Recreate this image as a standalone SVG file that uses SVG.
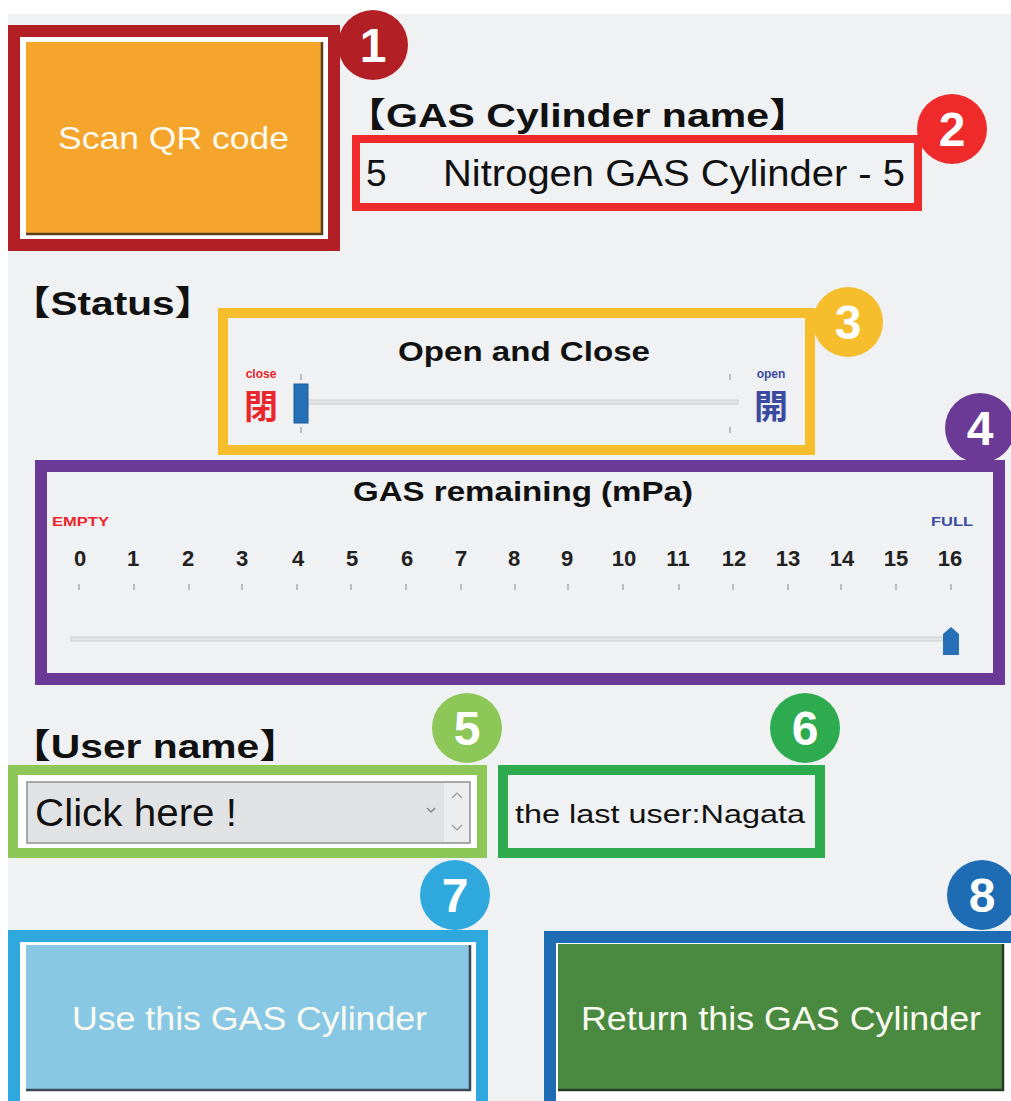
<svg xmlns="http://www.w3.org/2000/svg" width="1011" height="1101" viewBox="0 0 1011 1101">
<style>
.hd{font-family:"Liberation Sans","Noto Sans CJK JP",sans-serif;font-weight:bold;fill:#111}
.tx{font-family:"Liberation Sans","Noto Sans CJK JP",sans-serif;fill:#111}
.btn{font-family:"Liberation Sans",sans-serif;fill:#fafaf0}
.num{font-family:"Liberation Sans",sans-serif;font-weight:bold;font-size:48px;fill:#fff;text-anchor:middle}
.sc{font-family:"Liberation Sans",sans-serif;font-weight:bold;font-size:22px;fill:#222;text-anchor:middle}
.tk{stroke:#aaa;stroke-width:1.5}
.track{fill:#e3e4e6;stroke:#cfd0d2;stroke-width:1}
</style>
<rect x="0" y="0" width="1011" height="1101" fill="#ffffff"/>
<rect x="8" y="14" width="1003" height="1087" fill="#f0f1f3"/>

<g id="node1">
<rect x="14" y="31" width="320" height="214" fill="#ffffff" stroke="#b22025" stroke-width="12"/>
<rect x="26" y="42" width="296" height="192" fill="#f5a52c"/>
<path d="M322 42 V234 H26" fill="none" stroke="#5a4020" stroke-width="2.5"/>
<text class="btn" x="58" y="149" font-size="32" textLength="231" lengthAdjust="spacingAndGlyphs">Scan QR code</text>
<circle cx="373" cy="45" r="35" fill="#b22025"/>
<text class="num" x="373" y="62">1</text>
</g>

<g id="node2">
<text class="hd" x="345" y="127" font-size="34" textLength="465" lengthAdjust="spacingAndGlyphs">【GAS Cylinder name】</text>
<rect x="356" y="139" width="562" height="68" fill="none" stroke="#ee2a2b" stroke-width="8"/>
<text class="tx" x="366" y="186" font-size="37">5</text>
<text class="tx" x="443" y="186" font-size="37" textLength="462" lengthAdjust="spacingAndGlyphs">Nitrogen GAS Cylinder - 5</text>
<circle cx="952" cy="129" r="35" fill="#ee2a2b"/>
<text class="num" x="952" y="146">2</text>
</g>

<text class="hd" x="10" y="315" font-size="34" textLength="205" lengthAdjust="spacingAndGlyphs">【Status】</text>

<g id="node3">
<rect x="223" y="313" width="587" height="137" fill="none" stroke="#f6bd2d" stroke-width="10"/>
<text class="hd" x="398" y="361" font-size="28" textLength="252" lengthAdjust="spacingAndGlyphs">Open and Close</text>
<text x="261" y="378" font-family="Liberation Sans,sans-serif" font-weight="bold" font-size="12" fill="#e8262c" text-anchor="middle">close</text>
<text x="261" y="419" font-family="Noto Sans CJK JP,sans-serif" font-weight="bold" font-size="34" fill="#e8262c" text-anchor="middle">閉</text>
<text x="771" y="378" font-family="Liberation Sans,sans-serif" font-weight="bold" font-size="12" fill="#3a4ba0" text-anchor="middle">open</text>
<text x="771" y="419" font-family="Noto Sans CJK JP,sans-serif" font-weight="bold" font-size="34" fill="#3a4ba0" text-anchor="middle">開</text>
<rect class="track" x="300" y="400" width="438" height="4"/>
<line class="tk" x1="301" y1="374" x2="301" y2="380"/>
<line class="tk" x1="301" y1="427" x2="301" y2="433"/>
<line class="tk" x1="730" y1="374" x2="730" y2="380"/>
<line class="tk" x1="730" y1="427" x2="730" y2="433"/>
<rect x="294" y="384" width="14" height="39" fill="#2670b8" stroke="#1d5a96" stroke-width="1"/>
<circle cx="848" cy="322" r="35" fill="#f6bd2d"/>
<text class="num" x="848" y="339">3</text>
</g>

<g id="node4">
<rect x="41" y="466" width="958" height="213" fill="none" stroke="#6b3a96" stroke-width="12"/>
<text class="hd" x="353" y="501" font-size="28" textLength="340" lengthAdjust="spacingAndGlyphs">GAS remaining (mPa)</text>
<text x="52" y="526" font-family="Liberation Sans,sans-serif" font-weight="bold" font-size="13" fill="#e8262c" textLength="57" lengthAdjust="spacingAndGlyphs">EMPTY</text>
<text x="931" y="526" font-family="Liberation Sans,sans-serif" font-weight="bold" font-size="13" fill="#3a4ba0" textLength="42" lengthAdjust="spacingAndGlyphs">FULL</text>
<g>
<text class="sc" x="80" y="566">0</text>
<text class="sc" x="133" y="566">1</text>
<text class="sc" x="188" y="566">2</text>
<text class="sc" x="242" y="566">3</text>
<text class="sc" x="298" y="566">4</text>
<text class="sc" x="352" y="566">5</text>
<text class="sc" x="407" y="566">6</text>
<text class="sc" x="461" y="566">7</text>
<text class="sc" x="514" y="566">8</text>
<text class="sc" x="567" y="566">9</text>
<text class="sc" x="624" y="566">10</text>
<text class="sc" x="678" y="566">11</text>
<text class="sc" x="734" y="566">12</text>
<text class="sc" x="788" y="566">13</text>
<text class="sc" x="842" y="566">14</text>
<text class="sc" x="896" y="566">15</text>
<text class="sc" x="950" y="566">16</text>
</g>
<g class="tk">
<line x1="79" y1="584" x2="79" y2="590"/>
<line x1="134" y1="584" x2="134" y2="590"/>
<line x1="189" y1="584" x2="189" y2="590"/>
<line x1="242" y1="584" x2="242" y2="590"/>
<line x1="297" y1="584" x2="297" y2="590"/>
<line x1="351" y1="584" x2="351" y2="590"/>
<line x1="406" y1="584" x2="406" y2="590"/>
<line x1="461" y1="584" x2="461" y2="590"/>
<line x1="515" y1="584" x2="515" y2="590"/>
<line x1="568" y1="584" x2="568" y2="590"/>
<line x1="623" y1="584" x2="623" y2="590"/>
<line x1="679" y1="584" x2="679" y2="590"/>
<line x1="733" y1="584" x2="733" y2="590"/>
<line x1="788" y1="584" x2="788" y2="590"/>
<line x1="841" y1="584" x2="841" y2="590"/>
<line x1="896" y1="584" x2="896" y2="590"/>
<line x1="951" y1="584" x2="951" y2="590"/>
</g>
<rect class="track" x="71" y="637" width="876" height="4"/>
<path d="M943 634 L951 627 L959 634 V655 H943 Z" fill="#2670b8"/>
<circle cx="980" cy="428" r="35" fill="#6b3a96"/>
<text class="num" x="980" y="445">4</text>
</g>

<text class="hd" x="10" y="758" font-size="34" textLength="290" lengthAdjust="spacingAndGlyphs">【User name】</text>

<g id="node5">
<rect x="13" y="770" width="469" height="83" fill="#ffffff" stroke="#8dc757" stroke-width="10"/>
<rect x="27" y="782" width="443" height="61" fill="#e1e2e4" stroke="#8f9092" stroke-width="1.5"/>
<rect x="444" y="783" width="25" height="59" fill="#ecedef"/>
<text class="tx" x="35" y="826" font-size="38" textLength="202" lengthAdjust="spacingAndGlyphs">Click here !</text>
<path d="M427 808 L431 812 L435 808" fill="none" stroke="#777" stroke-width="1.2"/>
<path d="M452 798 L457 793 L462 798" fill="none" stroke="#999" stroke-width="1.2"/>
<path d="M452 825 L457 830 L462 825" fill="none" stroke="#999" stroke-width="1.2"/>
<circle cx="467" cy="728" r="35" fill="#8dc757"/>
<text class="num" x="467" y="745">5</text>
</g>

<g id="node6">
<rect x="503" y="770" width="317" height="83" fill="none" stroke="#2eaa4f" stroke-width="10"/>
<text class="tx" x="515" y="823" font-size="26" textLength="290" lengthAdjust="spacingAndGlyphs">the last user:Nagata</text>
<circle cx="805" cy="728" r="35" fill="#2eaa4f"/>
<text class="num" x="805" y="745">6</text>
</g>

<g id="node7">
<rect x="14" y="936" width="468" height="175" fill="#ffffff" stroke="#2fa8dd" stroke-width="12"/>
<rect x="26" y="945" width="444" height="145" fill="#88c8e4"/>
<path d="M470 945 V1090 H26" fill="none" stroke="#3a4a58" stroke-width="2.5"/>
<text class="btn" x="72" y="1030" font-size="34" textLength="355" lengthAdjust="spacingAndGlyphs">Use this GAS Cylinder</text>
<circle cx="455" cy="895" r="35" fill="#2fa8dd"/>
<text class="num" x="455" y="912">7</text>
</g>

<g id="node8">
<rect x="550" y="937" width="475" height="175" fill="#ffffff" stroke="#1e6db4" stroke-width="12"/>
<rect x="558" y="944" width="445" height="146" fill="#4a8a40"/>
<path d="M1003 944 V1090 H558" fill="none" stroke="#2a3a28" stroke-width="2.5"/>
<text class="btn" x="581" y="1030" font-size="34" textLength="400" lengthAdjust="spacingAndGlyphs">Return this GAS Cylinder</text>
<circle cx="982" cy="895" r="35" fill="#1e6db4"/>
<text class="num" x="982" y="912">8</text>
</g>

<g id="connectors"></g>
</svg>
